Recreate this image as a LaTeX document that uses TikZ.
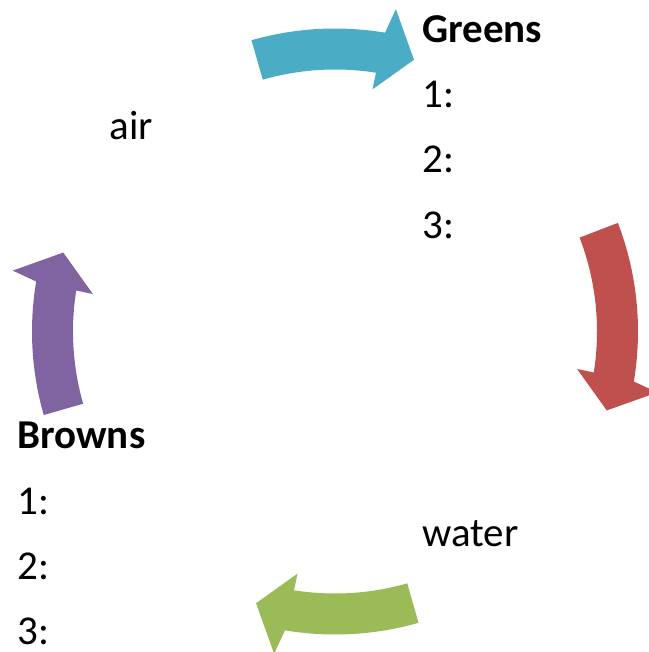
\documentclass[tikz,border=0pt]{standalone}
\usepackage{fontspec}
\setmainfont{Carlito}
\definecolor{cycteal}{HTML}{4BACC6}
\definecolor{cycred}{HTML}{C0504D}
\definecolor{cycgreen}{HTML}{9BBB59}
\definecolor{cycpurple}{HTML}{8064A2}
\tikzset{
  % one curved block arrow of the cycle, drawn around the origin, running clockwise;
  % the argument is the angle of its tail
  pics/cyclearrow/.style={code={
    \path[pic actions] (#1:303) arc[start angle=#1, end angle=80.5, radius=303]
      -- (79.3:328) -- (73.8:283) -- (81.2:245) -- (81:262)
      arc[start angle=81, end angle=#1, radius=262] -- cycle;
  }},
  pics/cyclearrow/.default=106,
  lbl/.style={anchor=base west, inner sep=0pt, font=\fontsize{20.5}{24}\selectfont},
  head/.style={lbl, font=\fontsize{20.5}{24}\selectfont\bfseries},
}
\begin{document}
\begin{tikzpicture}[x=0.5pt, y=0.5pt]
  \useasboundingbox (0,0) rectangle (648,-652);
  \coordinate (c) at (335,-331.5);

  % four arrows of the cycle
  \pic[fill=cycteal] at (c) {cyclearrow};
  \pic[fill=cycred, rotate=-90] at (c) {cyclearrow=111};
  \pic[fill=cycgreen, rotate=-180] at (c) {cyclearrow};
  \pic[fill=cycpurple, rotate=90] at (c) {cyclearrow};

  % labels
  \node[head] (greens) at (422,-43) {Greens};
  \node[lbl] (g1) at (422,-108) {1:};
  \node[lbl] (g2) at (422,-173) {2:};
  \node[lbl] (g3) at (422,-238) {3:};

  \node[lbl] (air) at (109,-140) {air};
  \node[lbl] (water) at (422,-546) {water};

  \node[head] (browns) at (17,-448) {Browns};
  \node[lbl] (b1) at (17,-514) {1:};
  \node[lbl] (b2) at (17,-579) {2:};
  \node[lbl] (b3) at (17,-644) {3:};
\end{tikzpicture}
\end{document}
